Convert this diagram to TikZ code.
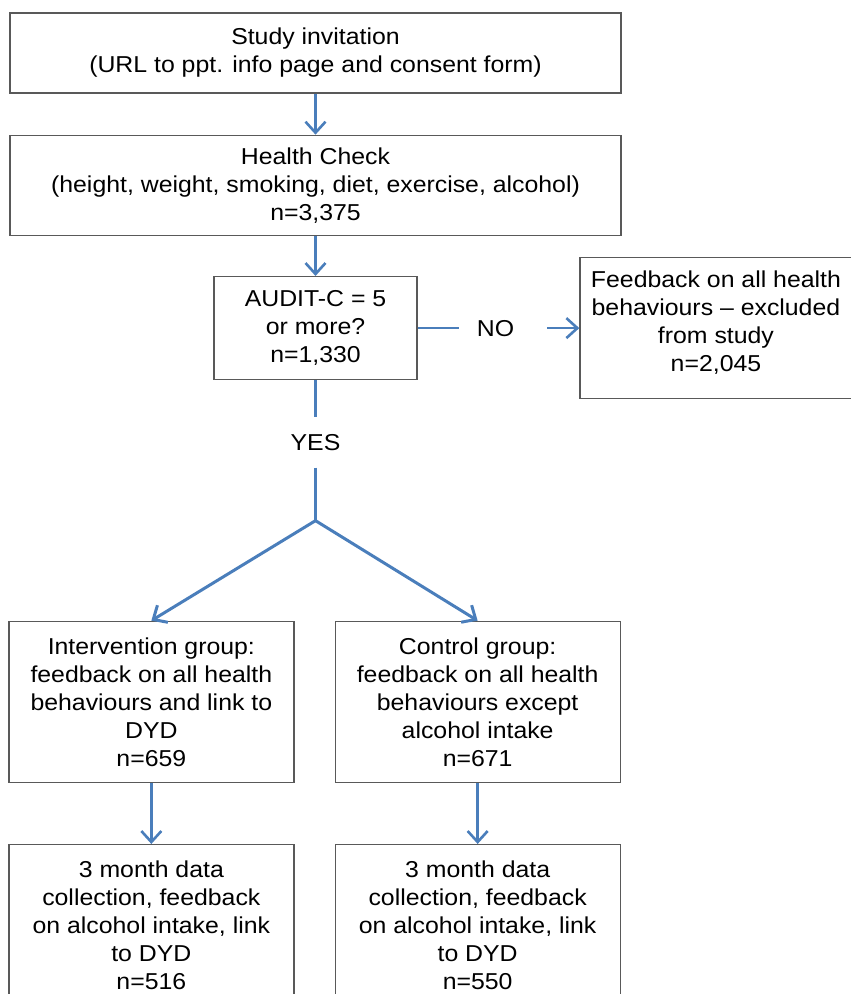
\documentclass[tikz,border=0pt]{standalone}
\usepackage{fontspec}
\setmainfont{Liberation Sans}[FakeStretch=1.08]
\usepackage{tikz}
\usetikzlibrary{arrows.meta,positioning}
\definecolor{flowblue}{RGB}{74,126,187}

\begin{document}
\begin{tikzpicture}[x=1pt, y=1pt, node distance=40pt, auto]
    \tikzstyle{stage} = [rectangle, draw=gray!70!black, line width=1.3pt, align=center, font=\fontsize{23}{28}\selectfont]
    \tikzstyle{choice} = [inner sep=0pt, font=\fontsize{23}{28}\selectfont]
    \tikzstyle{link} = [draw=flowblue, line width=2.6pt]
    \tikzstyle{arrow} = [link, -{Straight Barb[length=11pt,width=20pt]}]

    \useasboundingbox (0,0) rectangle (851,-994);

    % Study invitation
    \node [stage, minimum width=611pt, minimum height=80pt] (invite) at (315.5,-53) {Study invitation\\(URL to ppt. info page and consent form)};

    % Health Check
    \node [stage, minimum width=611pt, minimum height=100pt, below=41pt of invite] (health) {Health Check\\(height, weight, smoking, diet, exercise, alcohol)\\n=3,375};

    % AUDIT-C
    \node [stage, minimum width=203pt, minimum height=103pt, below=40pt of health] (audit) {AUDIT-C = 5\\or more?\\n=1,330};

    % NO branch
    \node [choice, right=59pt of audit] (no) {NO};
    \node [stage, minimum width=272pt, minimum height=141pt, right=65pt of no] (excluded) {Feedback on all health\\behaviours -- excluded\\from study\\n=2,045\\[-14pt]};

    % YES branch
    \node [choice, minimum height=50pt, below=37pt of audit] (yes) {YES};
    \coordinate [below=53pt of yes] (split);

    % Groups
    \node [stage, minimum width=285pt, minimum height=161pt, below left=100pt and 21pt of split] (intervention) {Intervention group:\\feedback on all health\\behaviours and link to\\DYD\\n=659};
    \node [stage, minimum width=285pt, minimum height=161pt, below right=100pt and 19pt of split] (control) {Control group:\\feedback on all health\\behaviours except\\alcohol intake\\n=671};

    % Follow-up
    \node [stage, minimum width=285pt, minimum height=161pt, below=61pt of intervention] (followint) {3 month data\\collection, feedback\\on alcohol intake, link\\to DYD\\n=516};
    \node [stage, minimum width=285pt, minimum height=161pt, below=61pt of control] (followctl) {3 month data\\collection, feedback\\on alcohol intake, link\\to DYD\\n=550};

    % Arrows
    \draw [arrow] (invite) -- (health);
    \draw [arrow] (health) -- (audit);
    \draw [link, shorten >=18pt] (audit) -- (no);
    \draw [arrow, shorten <=33pt] (no) -- (excluded);
    \draw [link] (audit) -- (yes);
    \draw [link] (yes) -- (split);
    \draw [arrow, line width=3pt] (split) -- (intervention.north);
    \draw [arrow, line width=3pt] (split) -- (control.north);
    \draw [arrow] (intervention) -- (followint);
    \draw [arrow] (control) -- (followctl);
\end{tikzpicture}
\end{document}
